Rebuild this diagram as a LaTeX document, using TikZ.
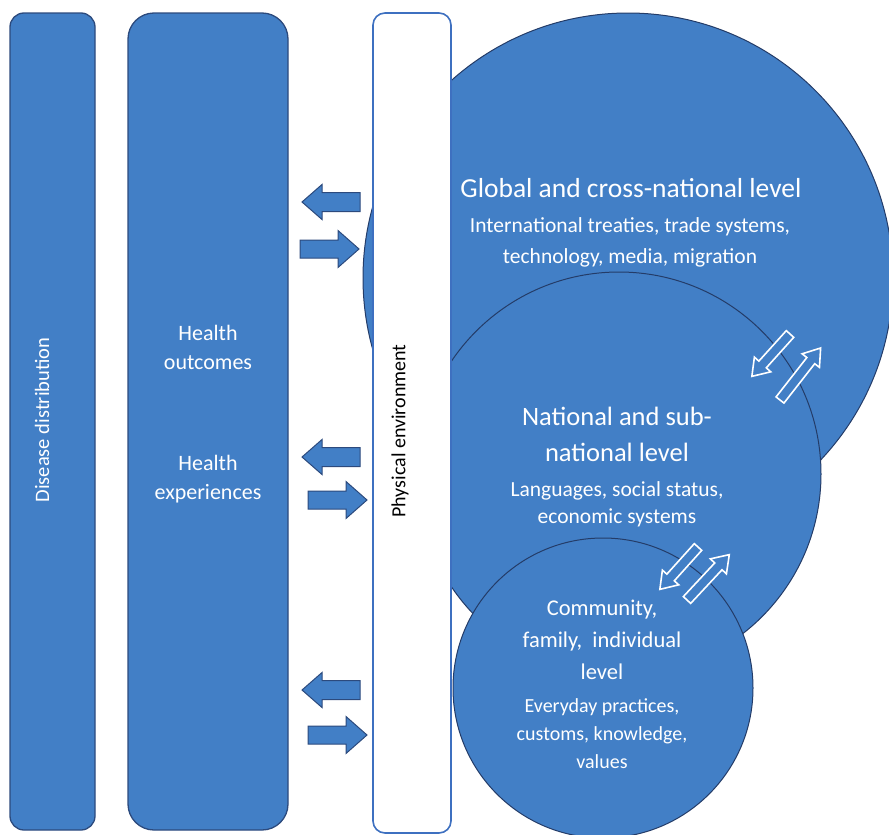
\documentclass[tikz,border=0pt]{standalone}
\usepackage{fontspec}
\setmainfont{Carlito}
\definecolor{levelblue}{RGB}{66,127,198}
\definecolor{baredge}{RGB}{44,74,125}
\definecolor{ringedge}{RGB}{36,60,104}
\definecolor{envedge}{RGB}{62,112,192}
\newcommand{\arrowL}[2]{ \draw[blockarrow] (#1,#2) -- (#1+20,#2-17.5) -- (#1+20,#2-9.5) -- (#1+58,#2-9.5) -- (#1+58,#2+9.5) -- (#1+20,#2+9.5) -- (#1+20,#2+17.5) -- cycle;}
\newcommand{\arrowR}[2]{ \draw[blockarrow] (#1,#2-9) -- (#1+38,#2-9) -- (#1+38,#2-18.5) -- (#1+59,#2) -- (#1+38,#2+18.5) -- (#1+38,#2+9) -- (#1,#2+9) -- cycle;}
\newcommand{\arrowD}[4]{ \draw[twoway, shift={(#1,#2)}, rotate=#3] (0,-5) -- (#4-16,-5) -- (#4-16,-11) -- (#4,0) -- (#4-16,11) -- (#4-16,5) -- (0,5) -- cycle;}
\tikzset{
  bar/.style={draw=baredge, fill=levelblue, line width=1.3pt, inner sep=0pt},
  level/.style={circle, draw=ringedge, fill=levelblue, line width=1pt, inner sep=0pt},
  blockarrow/.style={draw=baredge, fill=levelblue, line width=1pt, line join=miter},
  twoway/.style={draw=white, fill=levelblue, line width=1.6pt},
  title/.style={text=white, align=center, inner sep=0pt, font=\fontsize{26.5}{36}\selectfont},
  note/.style={text=white, align=center, inner sep=0pt, font=\fontsize{21}{#1}\selectfont},
  note/.default=28
}

\begin{document}
\begin{tikzpicture}[x=1pt, y=-1pt]
\useasboundingbox (0,0) rectangle (889,835);
% side bars
\node[bar, rounded corners=14pt, minimum width=85pt, minimum height=817pt] (disease) at (52.5,421.5) {};
\node[bar, rounded corners=26pt, minimum width=160pt, minimum height=817pt] (health) at (208,421.5) {};
% levels
\node[level, minimum size=530pt] (global) at (628,278) {};
\node[level, minimum size=404pt] (national) at (619,474) {};
\node[level, minimum size=300pt] (community) at (603,688) {};
% physical environment
\node[draw=envedge, fill=white, line width=1.6pt, rounded corners=12pt, inner sep=0pt, minimum width=78pt, minimum height=820pt] (physical) at (412,423) {};

% texts
\node[note, font=\fontsize{20.5}{28}\selectfont, rotate=90] (diseasetext) at (42,420) {Disease distribution};
\node[note=29, font=\fontsize{22}{29}\selectfont] (outcomes) at (208,347) {Health\\outcomes};
\node[note=29, font=\fontsize{22}{29}\selectfont] (experiences) at (208,479) {Health\\experiences};
\node[note, font=\fontsize{20}{28}\selectfont, text=black, rotate=90] (physicaltext) at (400,431) {Physical environment};
\node[title, font=\fontsize{27.5}{36}\selectfont] (globaltitle) at (631,188) {Global and cross-national level};
\node[note, font=\fontsize{21.5}{31}\selectfont] (globaltext) at (630,242) {International treaties, trade systems,\\technology, media, migration};
\node[title] (nationaltitle) at (617,434) {National and sub-\\national level};
\node[note, font=\fontsize{21.5}{27}\selectfont] (nationaltext) at (617,504) {Languages, social status,\\economic systems};
\node[title, font=\fontsize{22.5}{32}\selectfont] (communitytitle) at (602,640) {Community,\\family,~ individual\\level};
\node[note, font=\fontsize{20}{28}\selectfont] (communitytext) at (602,734) {Everyday practices,\\customs, knowledge,\\values};

% arrows to the bars
\arrowL{302}{202}
\arrowR{300}{249}
\arrowL{302}{457}
\arrowR{308}{500}
\arrowL{302}{690}
\arrowR{308}{735}
% arrows between levels
\arrowD{790}{334}{228}{57}
\arrowD{780}{400}{52}{66}
\arrowD{698}{547}{228}{57}
\arrowD{687}{600}{47}{62}
\end{tikzpicture}
\end{document}
